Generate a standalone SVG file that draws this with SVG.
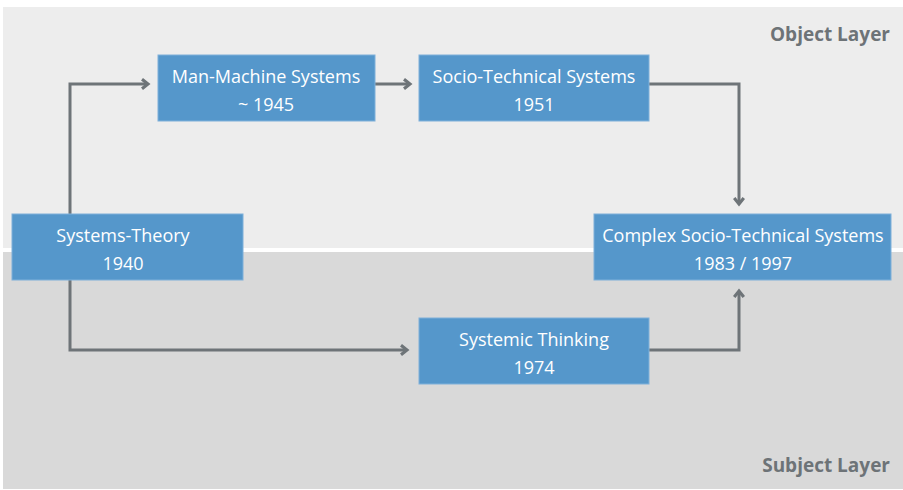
<svg xmlns="http://www.w3.org/2000/svg" width="903" height="490" viewBox="0 0 903 490">
  <style>
    .node rect { fill: #5597cb; stroke: #7fb0da; stroke-width: 1; }
    .node text { fill: #ffffff; font-family: "Open Sans", "Liberation Sans", sans-serif; font-size: 18px; text-anchor: middle; }
    .layer { fill: #6d7377; font-family: "Open Sans", "Liberation Sans", sans-serif; font-size: 19px; font-weight: bold; text-anchor: end; }
    .conn { fill: none; stroke: #6e7478; stroke-width: 3; marker-end: url(#arrow); }
  </style>
  <defs>
    <marker id="arrow" viewBox="0 0 10 10" refX="7" refY="5" markerWidth="4" markerHeight="4" orient="auto" markerUnits="strokeWidth">
      <polyline points="2,1 7,5 2,9" fill="none" stroke="#6e7478" stroke-width="2.6" stroke-linejoin="miter"/>
    </marker>
  </defs>

  <!-- layer backgrounds -->
  <rect x="0" y="0" width="903" height="490" fill="#ffffff"/>
  <rect x="3" y="7" width="900" height="241" fill="#ededed"/>
  <rect x="3" y="252" width="900" height="237" fill="#d9d9d9"/>
  <text class="layer" x="890" y="41">Object Layer</text>
  <text class="layer" x="890" y="472">Subject Layer</text>

  <!-- connectors -->
  <g id="connectors">
    <polyline class="conn" points="70,214 70,84 148,84"/>
    <polyline class="conn" points="375,84 410,84"/>
    <polyline class="conn" points="649,84 739,84 739,204"/>
    <polyline class="conn" points="70,280 70,350 407,350"/>
    <polyline class="conn" points="649,350 739,350 739,291"/>
  </g>

  <!-- nodes -->
  <g id="systems-theory" class="node">
    <rect x="12" y="214" width="231" height="66"/>
    <text x="123" y="242">Systems-Theory</text>
    <text x="123" y="270">1940</text>
  </g>
  <g id="man-machine" class="node">
    <rect x="158" y="55" width="217" height="66"/>
    <text x="266" y="83">Man-Machine Systems</text>
    <text x="266" y="111">~ 1945</text>
  </g>
  <g id="socio-technical" class="node">
    <rect x="419" y="55" width="230" height="66"/>
    <text x="534" y="83">Socio-Technical Systems</text>
    <text x="534" y="111">1951</text>
  </g>
  <g id="complex-socio-technical" class="node">
    <rect x="594" y="214" width="297" height="66"/>
    <text x="743" y="242">Complex Socio-Technical Systems</text>
    <text x="743" y="270">1983 / 1997</text>
  </g>
  <g id="systemic-thinking" class="node">
    <rect x="419" y="318" width="230" height="66"/>
    <text x="534" y="346">Systemic Thinking</text>
    <text x="534" y="374">1974</text>
  </g>
</svg>
